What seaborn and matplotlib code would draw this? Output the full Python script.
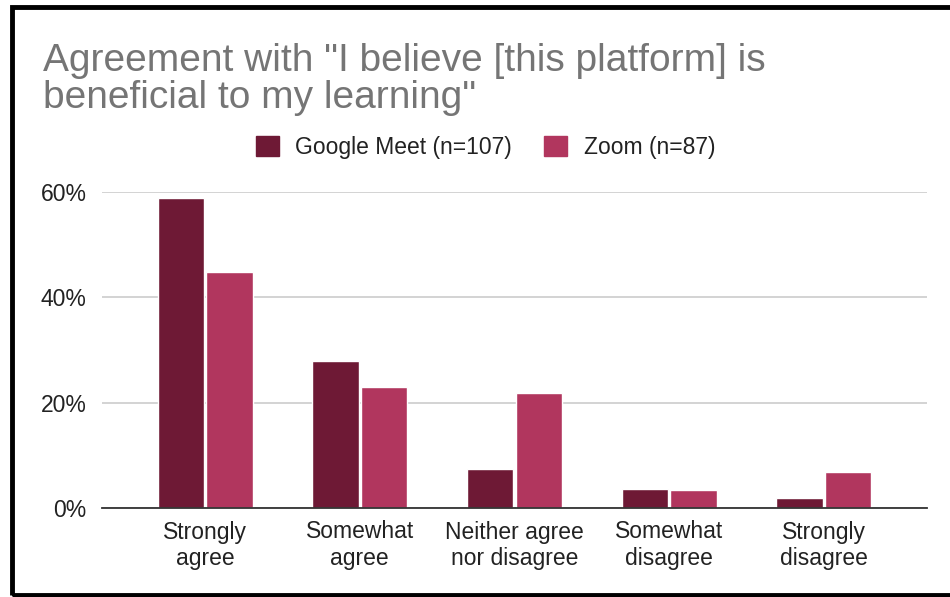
import matplotlib
matplotlib.use("Agg")
import matplotlib.pyplot as plt
import matplotlib.patches as mpatches
import pandas as pd
import seaborn as sns

# dados
categorias = ["Strongly\nagree", "Somewhat\nagree", "Neither agree\nnor disagree",
              "Somewhat\ndisagree", "Strongly\ndisagree"]
google_meet = [58.9, 28.0, 7.5, 3.7, 1.9]
zoom = [44.8, 23.0, 21.8, 3.4, 6.9]
series = ["Google Meet (n=107)", "Zoom (n=87)"]
cores = ["#6e1935", "#b1365e"]

dados = pd.DataFrame({
    "categoria": categorias * 2,
    "valor": google_meet + zoom,
    "plataforma": [series[0]] * 5 + [series[1]] * 5,
})

sns.set_style("white")
plt.rcParams["font.family"] = ["Liberation Sans", "DejaVu Sans"]

fig = plt.figure(figsize=(9.5, 5.97), dpi=100)
# área do gráfico: x de 102 a 927 px, y de 192 a 508 px
ax = fig.add_axes([102 / 950, 89 / 597, 825 / 950, 316 / 597])

sns.barplot(data=dados, x="categoria", y="valor", hue="plataforma",
            palette=cores, width=0.63, gap=0.05, saturation=1, ax=ax,
            legend=False)

ax.set_ylim(0, 60)
ax.set_xlim(-0.666, 4.666)
ax.set_yticks([0, 20, 40, 60])
ax.set_yticklabels(["0%", "20%", "40%", "60%"])
ax.yaxis.grid(True, color="#cccccc", linewidth=1.2)
ax.set_axisbelow(True)
for lado in ["top", "right", "left"]:
    ax.spines[lado].set_visible(False)
ax.spines["bottom"].set_color("#333333")
ax.spines["bottom"].set_linewidth(1.3)
ax.spines["bottom"].set_zorder(3)
ax.tick_params(axis="both", length=0, labelsize=16.5, colors="#222222")
ax.tick_params(axis="y", pad=11)
ax.tick_params(axis="x", pad=9)
ax.set_xlabel("")
ax.set_ylabel("")

# legenda
handles = [mpatches.Patch(color=c) for c in cores]
fig.legend(handles, series, loc="center", bbox_to_anchor=(0.511, 0.753),
           ncol=2, frameon=False, fontsize=16.5, handlelength=1.0,
           handleheight=1.0, columnspacing=1.4, handletextpad=0.72,
           labelcolor="#222222")

fig.text(0.045, 1 - 43 / 597, 'Agreement with "I believe [this platform] is\nbeneficial to my learning"',
         fontsize=28, color="#757575", va="top", ha="left", linespacing=1.02)

# moldura preta
fig.add_artist(mpatches.Rectangle((0.0127, 0.004), 1.2, 0.984, transform=fig.transFigure,
                                  fill=False, edgecolor="black", linewidth=3.5))

fig.savefig("out.png", dpi=100, facecolor="white")
